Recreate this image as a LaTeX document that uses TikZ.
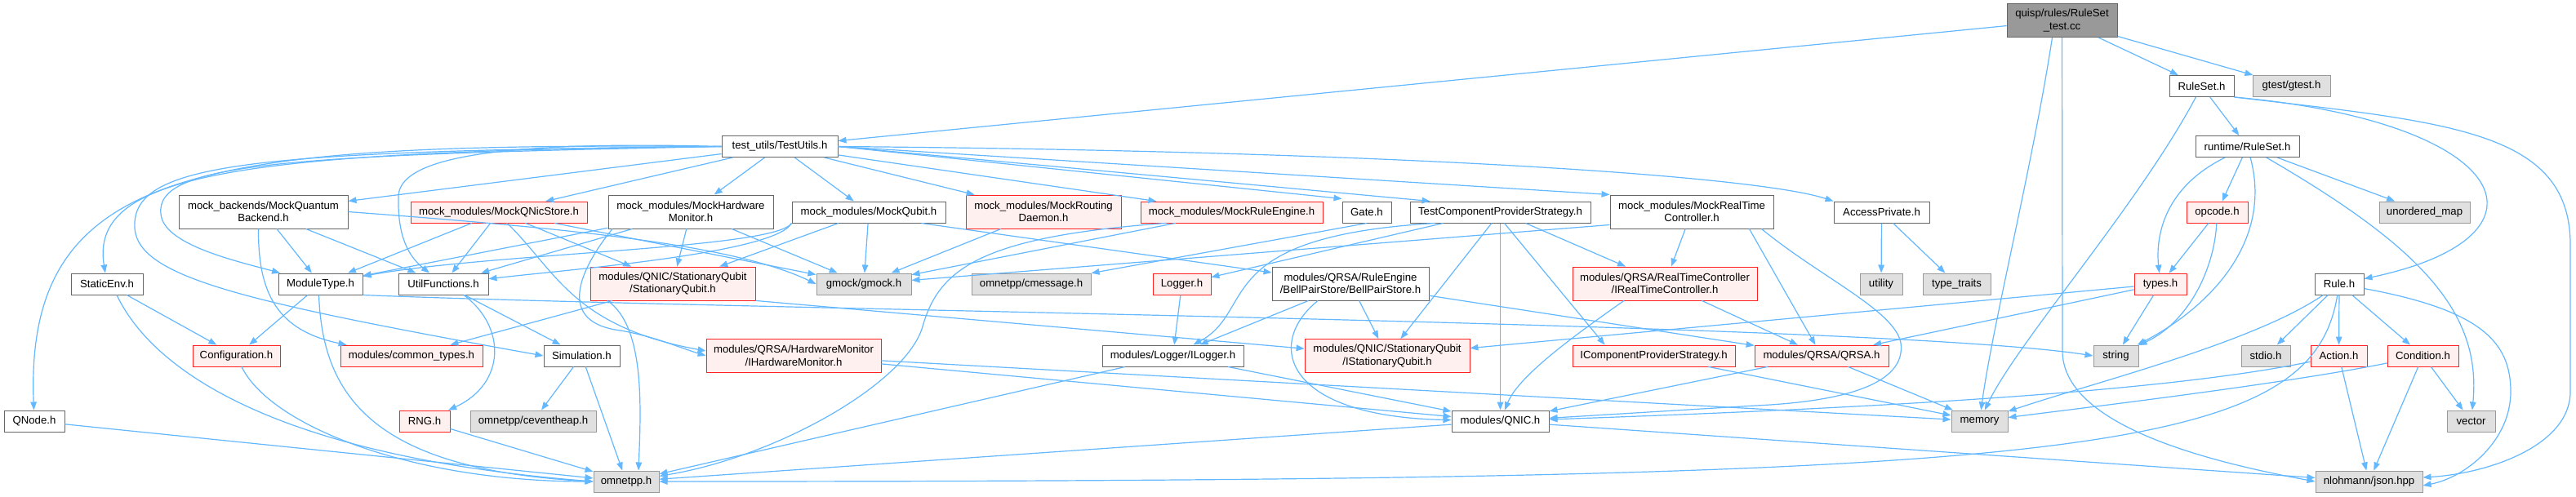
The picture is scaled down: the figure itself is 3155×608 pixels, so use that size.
\documentclass[tikz,border=0pt]{standalone}
\usepackage{fontspec}
\setmainfont{Liberation Sans}
\usetikzlibrary{arrows.meta}
\definecolor{edgec}{HTML}{63B8FF}
\definecolor{bordc}{HTML}{666666}
\definecolor{redc}{HTML}{FF2020}
\definecolor{redf}{HTML}{FFF0F0}
\definecolor{grayb}{HTML}{999999}
\definecolor{grayf}{HTML}{E0E0E0}
\newcommand\dxfont{\fontsize{13.2}{15.5}\selectfont}
\begin{document}
\begin{tikzpicture}[x=1pt,y=-1pt,
 nd/.style={draw=bordc,fill=white,line width=1.0pt,inner sep=0pt,align=center,minimum height=26pt,font=\dxfont},
 dbl/.style={minimum height=41pt},
 tr/.style={draw=redc,fill=redf,line width=0.8pt},
 ex/.style={draw=grayb,fill=grayf},
 rt/.style={draw=bordc,fill=grayb},
 e/.style={draw=edgec,line width=1.2pt,-{Triangle[length=10pt,width=7.5pt]}}]
\useasboundingbox (0,0) rectangle (3155,608);
\fill[white] (0,0) rectangle (3155,608);
% row 0/1
\node[nd,dbl,rt,minimum width=135pt] (root) at (2525.5,25) {quisp/rules/RuleSet\\\_test.cc};
\node[nd,minimum width=79pt] (rs) at (2696.5,105.5) {RuleSet.h};
\node[nd,ex,minimum width=95pt] (gt) at (2806.5,105.5) {gtest/gtest.h};
\node[nd,minimum width=142pt] (tu) at (955,179.5) {test\_utils/TestUtils.h};
\node[nd,minimum width=127pt] (rrs) at (2752.5,179.5) {runtime/RuleSet.h};
% row 2
\node[nd,dbl,minimum width=207pt] (mqb) at (322.5,259.5) {mock\_backends/MockQuantum\\Backend.h};
\node[nd,tr,minimum width=216pt] (mqs) at (611,260) {mock\_modules/MockQNicStore.h};
\node[nd,dbl,minimum width=202pt] (mhm) at (846,259.5) {mock\_modules/MockHardware\\Monitor.h};
\node[nd,minimum width=188pt] (mqu) at (1064,260) {mock\_modules/MockQubit.h};
\node[nd,dbl,tr,minimum width=190pt] (mrd) at (1278,259.5) {mock\_modules/MockRouting\\Daemon.h};
\node[nd,tr,minimum width=223pt] (mre) at (1508.5,260) {mock\_modules/MockRuleEngine.h};
\node[nd,minimum width=60pt] (gate) at (1674,260) {Gate.h};
\node[nd,minimum width=221pt] (tcps) at (1837.5,260) {TestComponentProviderStrategy.h};
\node[nd,dbl,minimum width=200pt] (mrtc) at (2072,259.5) {mock\_modules/MockRealTime\\Controller.h};
\node[nd,minimum width=117pt] (ap) at (2304.5,260) {AccessPrivate.h};
\node[nd,tr,minimum width=75pt] (op) at (2715.5,260) {opcode.h};
\node[nd,ex,minimum width=111pt] (umap) at (2969.5,260) {unordered\_map};
% row 3
\node[nd,minimum width=88pt] (se) at (131,348) {StaticEnv.h};
\node[nd,minimum width=103pt] (mt) at (392.5,348) {ModuleType.h};
\node[nd,minimum width=110pt] (uf) at (543,348) {UtilFunctions.h};
\node[nd,dbl,tr,minimum width=202pt] (sqh) at (824,347.5) {modules/QNIC/StationaryQubit\\/StationaryQubit.h};
\node[nd,ex,minimum width=116pt] (gm) at (1058,348) {gmock/gmock.h};
\node[nd,ex,minimum width=146pt] (cm) at (1263,348) {omnetpp/cmessage.h};
\node[nd,tr,minimum width=71pt] (lg) at (1447.5,348) {Logger.h};
\node[nd,dbl,minimum width=192pt] (bps) at (1654,347.5) {modules/QRSA/RuleEngine\\/BellPairStore/BellPairStore.h};
\node[nd,dbl,tr,minimum width=226pt] (irtc) at (2039,347.5) {modules/QRSA/RealTimeController\\/IRealTimeController.h};
\node[nd,ex,minimum width=52pt] (ut) at (2304,348) {utility};
\node[nd,ex,minimum width=83pt] (tt) at (2396.5,348) {type\_traits};
\node[nd,tr,minimum width=64pt] (ty) at (2646,348) {types.h};
\node[nd,minimum width=60pt] (rule) at (2865,348) {Rule.h};
% row 4
\node[nd,tr,minimum width=107pt] (conf) at (289.5,436) {Configuration.h};
\node[nd,tr,minimum width=174pt] (ct) at (504,436) {modules/common\_types.h};
\node[nd,minimum width=93pt] (sim) at (712.5,436) {Simulation.h};
\node[nd,dbl,tr,minimum width=214pt] (ihm) at (972,436) {modules/QRSA/HardwareMonitor\\/IHardwareMonitor.h};
\node[nd,minimum width=173pt] (ilg) at (1436.5,436) {modules/Logger/ILogger.h};
\node[nd,dbl,tr,minimum width=202pt] (isq) at (1699,436) {modules/QNIC/StationaryQubit\\/IStationaryQubit.h};
\node[nd,tr,minimum width=199pt] (icps) at (2025.5,436) {IComponentProviderStrategy.h};
\node[nd,tr,minimum width=164pt] (qrsa) at (2231,436) {modules/QRSA/QRSA.h};
\node[nd,ex,minimum width=55pt] (str) at (2591.5,436) {string};
\node[nd,ex,minimum width=60pt] (stdio) at (2775,436) {stdio.h};
\node[nd,tr,minimum width=69pt] (act) at (2864.5,436) {Action.h};
\node[nd,tr,minimum width=87pt] (cond) at (2967.5,436) {Condition.h};
% row 5
\node[nd,minimum width=74pt] (qn) at (42,516) {QNode.h};
\node[nd,tr,minimum width=62pt] (rng) at (520,516) {RNG.h};
\node[nd,ex,minimum width=154pt] (ceh) at (653,516) {omnetpp/ceventheap.h};
\node[nd,minimum width=119pt] (qnic) at (1837.5,516) {modules/QNIC.h};
\node[nd,ex,minimum width=69pt] (mem) at (2424.5,516) {memory};
\node[nd,ex,minimum width=59pt] (vec) at (3026.5,516) {vector};
% row 6
\node[nd,ex,minimum width=80pt] (omn) at (767,590) {omnetpp.h};
\node[nd,ex,minimum width=131pt] (nl) at (2901.5,590) {nlohmann/json.hpp};

% ---- edges ----
% root
\draw[e] (root) -- (tu);
\draw[e] (root) -- (rs);
\draw[e] (root) -- (gt);
\draw[e] ([xshift=-12pt]root.south) .. controls (2490,200) and (2440,400) .. (mem);
\draw[e] (root.south) -- (2526,430) .. controls (2526,520) and (2700,565) .. (nl.west);
% RuleSet.h
\draw[e] (rs) -- (rrs);
\draw[e] (rs) .. controls (2620,250) and (2470,420) .. (mem);
\draw[e] (rs.south east) .. controls (3080,150) and (3140,290) .. (rule);
\draw[e] (rs.south east) .. controls (3000,150) and (3148,160) .. (3148,300) -- (3148,480) .. controls (3148,545) and (3050,580) .. ([yshift=5pt]nl.east);
% runtime/RuleSet.h
\draw[e] (rrs) -- (op);
\draw[e] (rrs) .. controls (2650,230) and (2640,290) .. (ty);
\draw[e] (rrs) .. controls (2785,300) and (2700,380) .. (str);
\draw[e] (rrs) -- (umap);
\draw[e] (rrs) .. controls (2960,300) and (3040,380) .. (vec);
% opcode, types
\draw[e] (op) -- (ty);
\draw[e] (op) .. controls (2712,330) and (2680,395) .. (str);
\draw[e] (ty) -- (isq);
\draw[e] (ty) -- (qrsa);
\draw[e] (ty) -- (str);
% Rule.h
\draw[e] (rule) -- (stdio);
\draw[e] (rule) -- (act);
\draw[e] (rule) -- (cond);
\draw[e] (rule) .. controls (2760,420) and (2560,470) .. (mem);
\draw[e] (rule) .. controls (2830,560) and (2550,590) .. (omn.east);
\draw[e] (rule) .. controls (3040,380) and (3075,420) .. (3075,480) .. controls (3075,540) and (3020,585) .. ([yshift=-5pt]nl.east);
% Action, Condition
\draw[e] (act) .. controls (2700,470) and (2450,495) .. (qnic);
\draw[e] (act) -- (nl);
\draw[e] (cond) .. controls (2800,470) and (2550,500) .. (mem);
\draw[e] (cond) -- (nl);
\draw[e] (cond) -- (vec);
% QRSA, IComponentProviderStrategy, QNIC
\draw[e] (qrsa) -- (qnic);
\draw[e] (qrsa) -- (mem);
\draw[e] (icps) -- (mem);
\draw[e] (qnic) -- (omn);
\draw[e] (qnic) -- (nl);
% IRealTimeController, MockRealTimeController
\draw[e] ([xshift=-50pt]irtc.south) .. controls (1930,410) and (1860,460) .. (qnic);
\draw[e] (irtc) -- (qrsa);
\draw[e] (mrtc) -- (irtc);
\draw[e] ([xshift=-30pt]mrtc.south east) -- (qrsa);
\draw[e] ([xshift=-15pt]mrtc.south east) .. controls (2230,340) and (2320,380) .. (2328,420) .. controls (2335,470) and (2260,492) .. (2150,497) -- (qnic);
\draw[e] ([yshift=5pt]mrtc.south west) -- (gm);
% TestComponentProviderStrategy
\draw[e] (tcps) -- (qnic);
\draw[e] ([xshift=5pt]tcps.south) -- ([xshift=-60pt]icps.north);
\draw[e] (tcps) -- (irtc);
\draw[e] (tcps) -- (isq);
\draw[e] ([xshift=-70pt]tcps.south) -- (lg);
\draw[e] ([xshift=-80pt]tcps.south) .. controls (1480,290) and (1540,380) .. (ilg);
% Gate, AccessPrivate, Logger, ILogger, BellPairStore
\draw[e] (gate.south) -- (cm);
\draw[e] (ap) -- (ut);
\draw[e] (ap) -- (tt);
\draw[e] (lg) -- (ilg);
\draw[e] (ilg) -- (omn);
\draw[e] (ilg) -- (qnic);
\draw[e] (bps) -- (isq);
\draw[e] ([xshift=-40pt]bps.south) .. controls (1550,420) and (1570,510) .. (qnic);
\draw[e] (bps) -- (qrsa);
\draw[e] (bps) -- (ilg);
% mocks
\draw[e] (mqu) -- (gm);
\draw[e] (mqu) -- (sqh);
\draw[e] (mqu.south west) .. controls (950,305) and (600,310) .. (mt);
\draw[e] (mqu.south west) .. controls (950,310) and (700,330) .. (uf);
\draw[e] ([xshift=-30pt]mqu.south east) -- (bps);
\draw[e] (mre) -- (gm);
\draw[e] ([xshift=-80pt]mre.south) .. controls (1200,290) and (1150,330) .. (1130,400) .. controls (1110,470) and (950,560) .. (omn);
\draw[e] (mrd) -- (gm);
\draw[e] (mhm) -- (gm);
\draw[e] (mhm) -- (sqh);
\draw[e] ([xshift=-96pt]mhm.south) .. controls (710,330) and (680,395) .. (760,405) .. controls (800,412) and (830,425) .. (ihm.west);
\draw[e] (mhm) -- (mt);
\draw[e] (mhm) -- (uf);
\draw[e] (mqs) -- (mt);
\draw[e] (mqs) -- (uf);
\draw[e] (mqs) -- (sqh);
\draw[e] (mqs) -- (gm);
\draw[e] ([xshift=10pt]mqs.south) .. controls (680,330) and (700,400) .. ([yshift=6pt]ihm.west);
\draw[e] (mqb.east) .. controls (700,280) and (900,300) .. (gm.west);
\draw[e] (mqb) -- (mt);
\draw[e] (mqb) -- (uf);
\draw[e] ([xshift=-6pt]mqb.south) .. controls (316,360) and (340,405) .. ([xshift=8pt]ct.north west);
% StationaryQubit, IHardwareMonitor
\draw[e] (sqh.south east) -- (isq);
\draw[e] ([xshift=-74pt]sqh.south) -- ([xshift=-40pt]ct.north east);
\draw[e] ([xshift=-80pt]sqh.south) .. controls (790,400) and (785,500) .. ([xshift=15pt]omn.north);
\draw[e] (ihm) -- (qnic);
\draw[e] (ihm) -- (mem);
% left side
\draw[e] (se) -- (conf);
\draw[e] ([xshift=12pt]se.south) .. controls (190,460) and (350,560) .. (omn.west);
\draw[e] (conf) .. controls (330,520) and (500,590) .. (omn.west);
\draw[e] (mt) -- (conf);
\draw[e] ([xshift=-2pt]mt.south) .. controls (395,480) and (450,575) .. (omn.west);
\draw[e] (mt.south east) .. controls (900,380) and (2300,395) .. (str.west);
\draw[e] (uf) -- (sim);
\draw[e] ([xshift=25pt]uf.south) .. controls (620,400) and (620,470) .. (rng);
\draw[e] (sim) -- (ceh);
\draw[e] (sim) -- (omn);
\draw[e] (rng) -- (omn);
\draw[e] (qn) -- (omn);
% TestUtils
\draw[e] (tu.west) .. controls (250,175) and (30,200) .. (qn);
\draw[e] (tu.west) .. controls (280,185) and (110,215) .. (se);
\draw[e] (tu.west) .. controls (350,190) and (190,200) .. (197,262) .. controls (200,300) and (290,320) .. (mt);
\draw[e] (tu) -- (mqb);
\draw[e] (tu.west) .. controls (600,172) and (490,195) .. (488,240) .. controls (487,280) and (495,310) .. (uf);
\draw[e] (tu) -- (mqs);
\draw[e] (tu.west) .. controls (300,185) and (160,200) .. (165,280) .. controls (170,340) and (300,370) .. (sim.west);
\draw[e] (tu) -- (mhm);
\draw[e] (tu) -- (mqu);
\draw[e] (tu) -- (mrd);
\draw[e] (tu) -- (mre);
\draw[e] (tu.east) -- ([yshift=3pt]gate.north west);
\draw[e] (tu.east) -- ([xshift=25pt]tcps.north west);
\draw[e] (tu.east) -- (mrtc.north west);
\draw[e] (tu.east) .. controls (1700,185) and (2150,215) .. (ap.north west);
\end{tikzpicture}
\end{document}
